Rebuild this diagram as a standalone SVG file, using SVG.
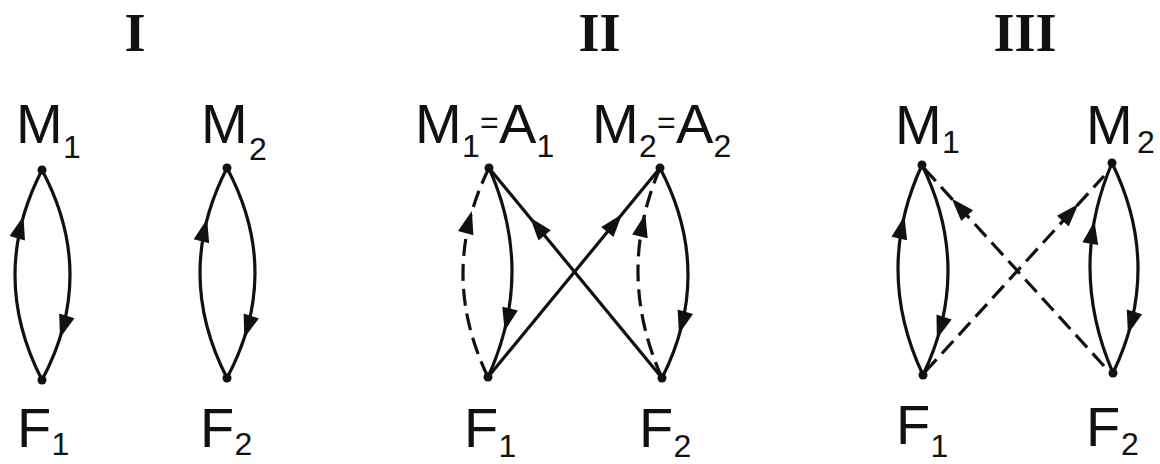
<svg xmlns="http://www.w3.org/2000/svg" width="1160" height="464" viewBox="0 0 1160 464">
<style>
.lbl{font-family:"Liberation Sans",Arial,sans-serif;font-size:56px;fill:#111}
.sub{font-size:32px}
.eq{font-size:32px}
.ttl{font-family:"Liberation Serif","Times New Roman",serif;font-size:54px;font-weight:bold;fill:#111;text-anchor:middle}
.e{fill:none;stroke:#111;stroke-width:3.2;stroke-linecap:round}
.d{fill:none;stroke:#111;stroke-width:3.2;stroke-dasharray:17 8}
.dot{fill:#111}
</style>
<defs>
<path id="ah" d="M2,0 L-21,-8 L-21,8 Z" fill="#111"/>
</defs>
<rect width="1160" height="464" fill="#fff"/>
<text class="ttl" x="135" y="51">I</text>
<text class="ttl" x="599.5" y="51">II</text>
<text class="ttl" x="1025" y="51">III</text>

<g id="connectors">
<!-- Panel I -->
<path class="e" d="M42,380 Q-12,275 42,170"/>
<use href="#ah" transform="translate(22.9,218) rotate(-74.4)"/>
<path class="e" d="M42,170 Q98,275 42,380"/>
<use href="#ah" transform="translate(60.6,336) rotate(107.2)"/>
<path class="e" d="M227,378 Q173,273 227,168"/>
<use href="#ah" transform="translate(206.6,221) rotate(-75.7)"/>
<path class="e" d="M227,168 Q283,273 227,378"/>
<use href="#ah" transform="translate(244.9,336) rotate(107.7)"/>
<!-- Panel II -->
<path class="d" d="M488,377 Q437.5,272.5 489,168"/>
<use href="#ah" transform="translate(471.3,213) rotate(-74.5)"/>
<path class="e" d="M489,168 Q535.5,272.5 488,377"/>
<use href="#ah" transform="translate(505.1,329) rotate(103.7)"/>
<path class="e" d="M662,378 L489,168"/>
<use href="#ah" transform="translate(531.3,219.1) rotate(-129.5)"/>
<path class="e" d="M488,377 L660,168"/>
<use href="#ah" transform="translate(620.7,215.8) rotate(-50.5)"/>
<path class="d" d="M662,378 Q615,273 660,168"/>
<use href="#ah" transform="translate(644.8,216) rotate(-76.6)"/>
<path class="e" d="M660,168 Q715,273 662,378"/>
<use href="#ah" transform="translate(679.5,332) rotate(106.1)"/>
<!-- Panel III -->
<path class="e" d="M923,375 Q873.5,270 922,165"/>
<use href="#ah" transform="translate(904,218) rotate(-77)"/>
<path class="e" d="M922,165 Q973.5,270 923,375"/>
<use href="#ah" transform="translate(937.5,337) rotate(108.2)"/>
<path class="d" d="M1104,366 L922,166"/>
<use href="#ah" transform="translate(953,200) rotate(-132.3)"/>
<path class="d" d="M925,372 L1104,176"/>
<use href="#ah" transform="translate(1077,205.6) rotate(-47.6)"/>
<path class="e" d="M1113,373 Q1067.5,268 1112,163"/>
<use href="#ah" transform="translate(1094.1,223) rotate(-79.6)"/>
<path class="e" d="M1112,163 Q1163.5,268 1113,373"/>
<use href="#ah" transform="translate(1128.5,332) rotate(106.5)"/>
</g>

<!-- Panel I nodes -->
<g id="I-M1"><circle class="dot" cx="42" cy="170" r="4.5"/><text class="lbl" x="16" y="143">M<tspan class="sub" x="63" y="158">1</tspan></text></g>
<g id="I-M2"><circle class="dot" cx="227" cy="168" r="4.5"/><text class="lbl" x="201" y="143">M<tspan class="sub" x="249" y="160">2</tspan></text></g>
<g id="I-F1"><circle class="dot" cx="42" cy="380" r="4.5"/><text class="lbl" x="17" y="447">F<tspan class="sub" x="51.5" y="455">1</tspan></text></g>
<g id="I-F2"><circle class="dot" cx="227" cy="378" r="4.5"/><text class="lbl" x="200" y="447">F<tspan class="sub" x="234.5" y="455">2</tspan></text></g>

<!-- Panel II nodes -->
<g id="II-M1"><circle class="dot" cx="489" cy="168" r="4.5"/><text class="lbl" x="415" y="143">M<tspan class="sub" x="462" y="157">1</tspan><tspan class="eq" x="480" y="133">=</tspan><tspan x="499" y="143">A</tspan><tspan class="sub" x="536.5" y="157">1</tspan></text></g>
<g id="II-M2"><circle class="dot" cx="660" cy="168" r="4.5"/><text class="lbl" x="592" y="143">M<tspan class="sub" x="639" y="157">2</tspan><tspan class="eq" x="657" y="133">=</tspan><tspan x="676" y="143">A</tspan><tspan class="sub" x="713.5" y="157">2</tspan></text></g>
<g id="II-F1"><circle class="dot" cx="488" cy="377" r="4.5"/><text class="lbl" x="464" y="447">F<tspan class="sub" x="498.5" y="457">1</tspan></text></g>
<g id="II-F2"><circle class="dot" cx="662" cy="378" r="4.5"/><text class="lbl" x="639" y="447">F<tspan class="sub" x="673.5" y="457">2</tspan></text></g>

<!-- Panel III nodes -->
<g id="III-M1"><circle class="dot" cx="922" cy="165" r="4.5"/><text class="lbl" x="895" y="144">M<tspan class="sub" x="942" y="153">1</tspan></text></g>
<g id="III-M2"><circle class="dot" cx="1112" cy="163" r="4.5"/><text class="lbl" x="1086" y="144">M<tspan class="sub" x="1137" y="153">2</tspan></text></g>
<g id="III-F1"><circle class="dot" cx="923" cy="375" r="4.5"/><text class="lbl" x="896" y="444">F<tspan class="sub" x="930.5" y="457">1</tspan></text></g>
<g id="III-F2"><circle class="dot" cx="1113" cy="373" r="4.5"/><text class="lbl" x="1086" y="446">F<tspan class="sub" x="1121" y="455">2</tspan></text></g>
</svg>
